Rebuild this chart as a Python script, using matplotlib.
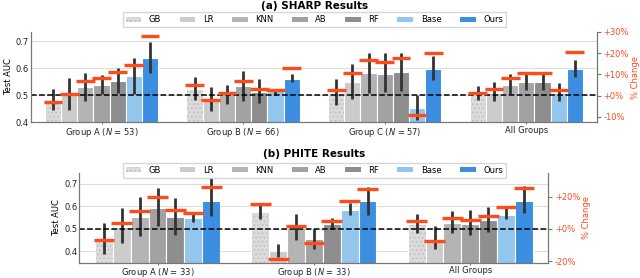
import numpy as np
import matplotlib
matplotlib.use("Agg")
import matplotlib.pyplot as plt
from matplotlib.patches import Patch
from matplotlib.ticker import FuncFormatter

models = ["GB", "LR", "KNN", "AB", "RF", "Base", "Ours"]
colors = ["#dcdcdc", "#cccccc", "#b4b4b4", "#a2a2a2", "#8e8e8e", "#93c6ec", "#3b8ee0"]

sharp_groups = [r"Group A ($N$ = 53)", r"Group B ($N$ = 66)", r"Group C ($N$ = 57)", "All Groups"]
sharp_auc = [[0.480, 0.522, 0.505, 0.501],
             [0.505, 0.485, 0.550, 0.510],
             [0.532, 0.505, 0.581, 0.538],
             [0.538, 0.534, 0.578, 0.550],
             [0.553, 0.513, 0.585, 0.550],
             [0.571, 0.516, 0.452, 0.508],
             [0.639, 0.560, 0.597, 0.597]]
sharp_lo = [[0.446, 0.483, 0.464, 0.482],
            [0.446, 0.443, 0.487, 0.479],
            [0.480, 0.468, 0.510, 0.504],
            [0.505, 0.480, 0.513, 0.519],
            [0.510, 0.470, 0.516, 0.519],
            [0.505, 0.501, 0.409, 0.479],
            [0.584, 0.548, 0.557, 0.569]]
sharp_hi = [[0.522, 0.567, 0.559, 0.534],
            [0.563, 0.532, 0.616, 0.548],
            [0.581, 0.538, 0.655, 0.579],
            [0.575, 0.590, 0.655, 0.585],
            [0.600, 0.559, 0.655, 0.585],
            [0.639, 0.525, 0.501, 0.544],
            [0.696, 0.578, 0.645, 0.631]]
sharp_pct = [[-3.1, 5.1, 2.8, 1.4],
             [0.9, -2.2, 10.6, 2.9],
             [6.8, 1.1, 16.9, 8.1],
             [8.1, 7.1, 16.0, 10.5],
             [11.1, 3.1, 17.7, 10.8],
             [14.6, 2.8, -9.1, 2.8],
             [28.2, 12.8, 20.2, 20.5]]

phite_groups = [r"Group A ($N$ = 33)", r"Group B ($N$ = 33)", "All Groups"]
phite_auc = [[0.453, 0.575, 0.520],
             [0.509, 0.404, 0.447],
             [0.553, 0.504, 0.528],
             [0.592, 0.454, 0.524],
             [0.553, 0.523, 0.540],
             [0.548, 0.585, 0.564],
             [0.626, 0.622, 0.626]]
phite_lo = [[0.390, 0.545, 0.481],
            [0.438, 0.375, 0.410],
            [0.470, 0.450, 0.481],
            [0.511, 0.412, 0.474],
            [0.475, 0.500, 0.488],
            [0.530, 0.560, 0.545],
            [0.559, 0.560, 0.569]]
phite_hi = [[0.526, 0.617, 0.567],
            [0.593, 0.434, 0.511],
            [0.644, 0.566, 0.579],
            [0.680, 0.500, 0.586],
            [0.639, 0.548, 0.598],
            [0.571, 0.617, 0.601],
            [0.725, 0.688, 0.689]]
phite_pct = [[-6.6, 15.7, 4.7],
             [3.5, -18.9, -7.7],
             [10.9, 1.9, 6.8],
             [19.6, -8.5, 5.3],
             [11.6, 5.2, 8.3],
             [9.9, 17.6, 13.7],
             [26.1, 24.8, 25.5]]

red = "#ff4a1c"
spine_c = "#777777"
fs = 6


def panel(ax, groups, auc, lo, hi, pct, ylim, rlim, yticks, rticks, title, title_y, leg_y):
    n = len(models)
    w = 0.8 / n
    x = np.arange(len(groups))
    ax2 = ax.twinx()
    for i, m in enumerate(models):
        pos = x - 0.4 + w * (i + 0.5)
        vals = np.array(auc[i])
        if m == "GB":
            ax.bar(pos, vals, w, color=colors[i], edgecolor="#c4c4c4", hatch="....",
                   linewidth=0, zorder=2)
            ax.bar(pos, vals, w, fill=False, edgecolor="white", linewidth=0.8, zorder=2)
        else:
            ax.bar(pos, vals, w, color=colors[i], edgecolor="white", linewidth=0.8, zorder=2)
        ax.vlines(pos, lo[i], hi[i], color="#333333", linewidth=2.0, zorder=3)
        ax2.hlines(pct[i], pos - w * 0.58, pos + w * 0.58, color=red, linewidth=2.4, zorder=4)
    ax.axhline(0.5, color="black", linestyle="--", linewidth=1.1, zorder=3)
    ax.set_xlim(-0.5, len(groups) - 0.5)
    ax.set_ylim(*ylim)
    ax.set_yticks(yticks)
    ax.set_yticklabels([f"{t:.1f}" for t in yticks])
    ax.set_xticks(x)
    ax.set_xticklabels(groups)
    ax.set_ylabel("Test AUC", fontsize=fs, labelpad=2)
    ax.grid(axis="y", color="#dddddd", linewidth=0.8, zorder=0)
    ax.set_axisbelow(True)
    ax.tick_params(axis="both", labelsize=fs, length=1.5, color=spine_c, pad=1.2, labelcolor="#222222")
    ax.tick_params(axis="y", length=0, pad=1.5)

    ax2.set_ylim(*rlim)
    ax2.set_yticks(rticks)
    ax2.yaxis.set_major_formatter(FuncFormatter(lambda v, p: f"{v:+.0f}%"))
    ax2.tick_params(axis="y", labelsize=fs, colors=red, length=3, pad=1.5)
    ax2.tick_params(axis="y", color=spine_c)
    ax2.set_ylabel("% Change", color=red, fontsize=fs, labelpad=1.5)
    for a in (ax, ax2):
        a.spines["top"].set_visible(False)
        for s in ("left", "bottom", "right"):
            a.spines[s].set_color(spine_c)
            a.spines[s].set_linewidth(0.8)
    fig.text(0.491, title_y, title, fontsize=7.5, fontweight="bold", ha="center", va="center")
    handles = []
    for i, m in enumerate(models):
        if m == "GB":
            handles.append(Patch(facecolor=colors[i], edgecolor="#c4c4c4", hatch="....", linewidth=0))
        else:
            handles.append(Patch(facecolor=colors[i], edgecolor="none"))
    fig.legend(handles, models, ncol=7, loc="center", fontsize=fs,
               bbox_to_anchor=(0.491, leg_y),
               frameon=True, edgecolor="#cccccc", handlelength=1.9, handleheight=0.6,
               columnspacing=2.2, borderpad=0.35, handletextpad=0.9, fancybox=False)


fig = plt.figure(figsize=(6.4, 2.78), dpi=100)
ax_top = fig.add_axes([0.048, 0.560, 0.885, 0.326])
ax_bot = fig.add_axes([0.124, 0.055, 0.733, 0.324])

panel(ax_top, sharp_groups, sharp_auc, sharp_lo, sharp_hi, sharp_pct,
      (0.4, 0.735), (-12.5, 30), [0.4, 0.5, 0.6, 0.7], [-10, 0, 10, 20, 30],
      "(a) SHARP Results", 0.978, 0.929)
panel(ax_bot, phite_groups, phite_auc, phite_lo, phite_hi, phite_pct,
      (0.35, 0.75), (-21, 35), [0.4, 0.5, 0.6, 0.7], [-20, 0, 20],
      "(b) PHITE Results", 0.447, 0.388)

fig.savefig("out.png", dpi=100)
